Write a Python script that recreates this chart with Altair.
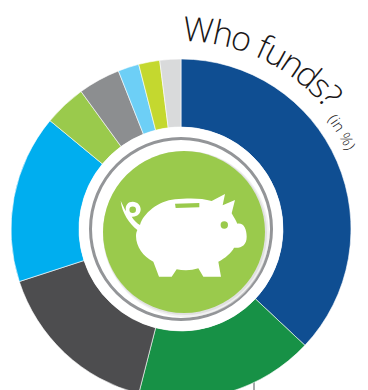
import math
import re
import altair as alt
import pandas as pd

categories = ["Blue", "Green", "Charcoal", "Cyan", "Leaf", "Grey", "Sky", "Lime", "Silver"]
values = [37, 17, 16, 16, 4, 4, 2, 2, 2]
colors = ["#0F4E92", "#179146", "#4D4D4F", "#00AEEF", "#9ACA4C", "#8C8E90", "#6DCFF6", "#C4D82F", "#D9DADB"]
title_text = "Who funds?"
note_text = "(in %)"
title_widths = [.86, .54, .53, .24, .28, .53, .53, .53, .40, .38]
note_widths = [.32, .24, .56, .26, .84, .32]

W, H = 352, 382
CX, CY = 173, 221  # page centre (181,229) less the 8px margin
TWO_PI = 2 * math.pi
one = pd.DataFrame({"a": [0]})
identity_x = alt.Scale(domain=[0, W], range=[0, W])
identity_y = alt.Scale(domain=[0, H], range=[0, H])


def disc(r, color, dx=0, dy=0, opacity=1.0):
    return alt.Chart(one).mark_arc(
        radius=r, radius2=0, theta=0, theta2=TWO_PI, fill=color, opacity=opacity
    ).encode(x=alt.value(CX + dx), y=alt.value(CY + dy))


def ring(r, color, w):
    return alt.Chart(one).mark_arc(
        radius=r + w / 2, radius2=r - w / 2, theta=0, theta2=TWO_PI, fill=color
    ).encode(x=alt.value(CX), y=alt.value(CY))


def curved(text, widths, size, start_deg, radius, weight):
    rows, pos = [], 0.0
    for ch, w in zip(text, widths):
        adv = w * size
        deg = start_deg + math.degrees((pos + adv / 2) / radius)
        rows.append({
            "ch": ch, "deg": deg,
            "px": CX + radius * math.sin(math.radians(deg)),
            "py": CY - radius * math.cos(math.radians(deg)),
        })
        pos += adv
    df = pd.DataFrame(rows)
    return alt.Chart(df).mark_text(
        font="Open Sans", fontSize=size, fontWeight=weight,
        color="#1A1718", align="center", baseline="alphabetic",
    ).encode(
        x=alt.X("px:Q", scale=identity_x, axis=None),
        y=alt.Y("py:Q", scale=identity_y, axis=None),
        angle=alt.Angle("deg:Q", scale=alt.Scale(domain=[0, 360], range=[0, 360])),
        text="ch:N",
    )


donut_df = pd.DataFrame({"cat": categories, "val": values, "ord": range(len(values))})
donut = alt.Chart(donut_df).mark_arc(
    outerRadius=170, innerRadius=102, stroke="white", strokeWidth=0.6
).encode(
    x=alt.value(CX), y=alt.value(CY),
    theta=alt.Theta("val:Q", stack=True),
    order=alt.Order("ord:Q"),
    color=alt.Color("cat:N", scale=alt.Scale(domain=categories, range=colors), legend=None),
)

stem = alt.Chart(one).mark_rule(color="#A7A9AC", strokeWidth=2).encode(
    x=alt.value(246), y=alt.value(H - 10), y2=alt.value(H)
)

PIG = (
    "M150 285 C160 250 205 213 255 208 C290 204 335 203 365 213 L405 192 L398 226 L435 210 "
    "L425 250 C432 262 438 272 442 281 C462 278 470 298 470 320 C470 345 455 355 432 353 "
    "C425 368 405 385 385 395 L393 440 L340 440 L325 415 C305 422 280 422 260 418 L245 440 "
    "L207 440 L190 395 C160 380 138 350 138 318 C138 310 140 305 142 300 "
    "C118 280 96 250 92 212 C100 228 103 236 108 243 C104 225 115 215 128 215 "
    "C142 215 152 226 152 238 C152 252 140 262 125 260 C132 272 142 280 150 285 Z"
)
SLOT = "M255 221 L328 219 L328 232 L257 234 Z"


def icon(path, color):
    # path is in crop units (3x) about the disc centre; size 4 draws it 1:1
    toks = re.findall(r"[A-Za-z]|-?\d+\.?\d*", path)
    out, idx = [], 0
    for t in toks:
        if t.isalpha():
            idx = 0
            out.append(t)
        else:
            v = (float(t) - (282 if idx % 2 == 0 else 306)) / 3
            out.append(f"{v:.2f}")
            idx += 1
    return alt.Chart(one).mark_point(
        shape=" ".join(out), size=4, filled=True, fill=color, opacity=1
    ).encode(x=alt.value(CX + 3), y=alt.value(CY + 3))


layers = [
    stem,
    donut,
    disc(102, "#FFFFFF"),
    ring(90.5, "#939598", 3),
    disc(83, "#E8E8E8", 5, 5, 0.6),
    disc(82, "#D6D6D6", 4, 4, 0.6),
    disc(81, "#9ACA4C", 3, 3),
    icon(PIG, "#FFFFFF"),
    icon(SLOT, "#9ACA4C"),
    disc(3.7, "#9ACA4C", 43.3, -4),
    disc(3.3, "#9ACA4C", -48.3, -19.3),
    curved(title_text, title_widths, 34, 0.5, 188, 300),
    curved(note_text, note_widths, 15, 53, 183, 300),
]

chart = alt.layer(*layers).resolve_scale(x="shared", y="shared").properties(
    width=W, height=H, padding=0, autosize=alt.AutoSizeParams(type="none")
).configure_view(stroke=None)

chart.save("out.html", embed_options={"renderer": "svg", "actions": False})
